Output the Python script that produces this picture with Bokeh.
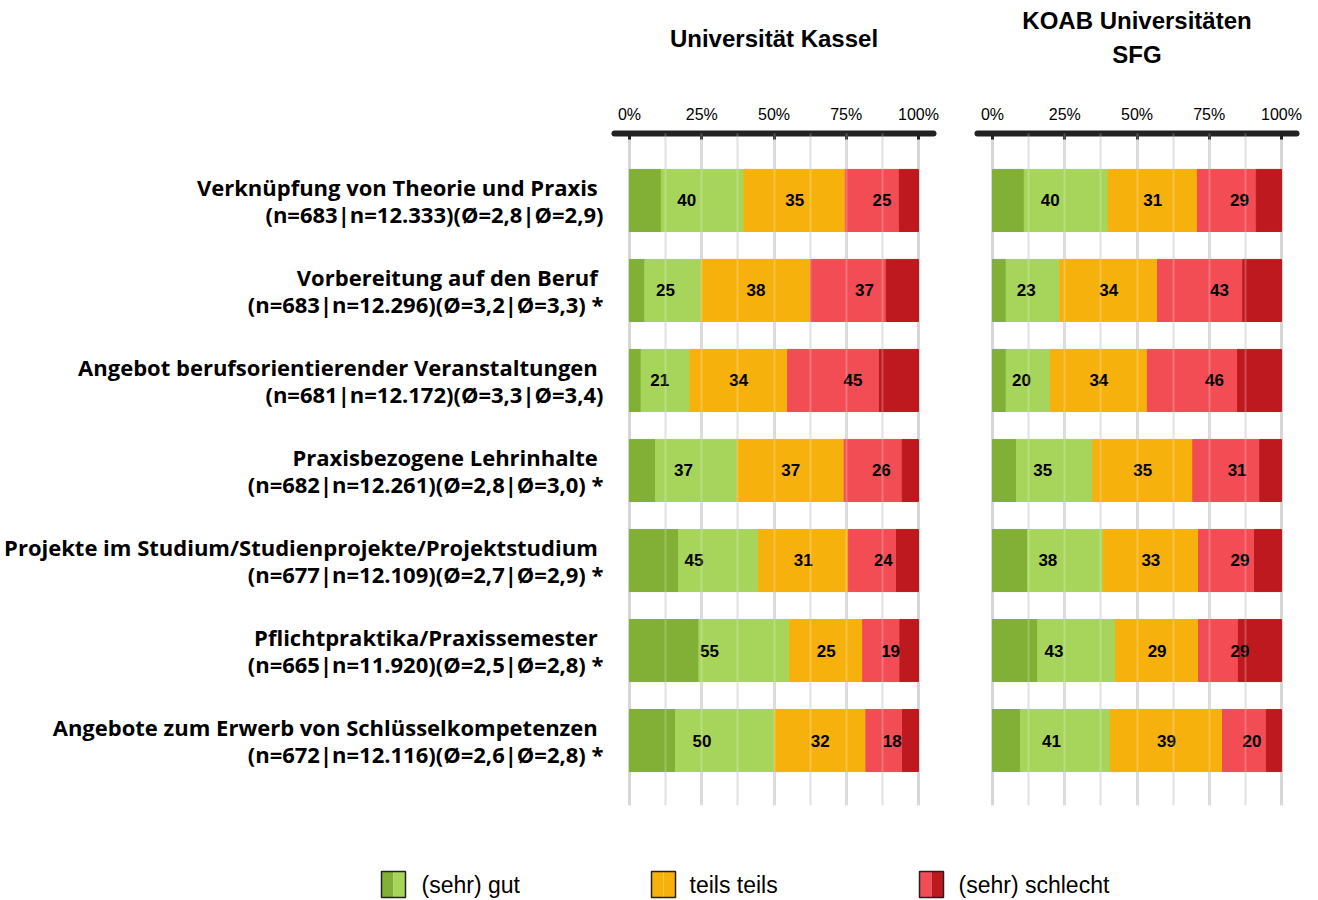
from bokeh.plotting import figure
from bokeh.layouts import row, column
from bokeh.models import Range1d, FixedTicker, Grid, ColumnDataSource, PrintfTickFormatter
from bokeh.embed import file_html
from bokeh.resources import INLINE
from bokeh.core.properties import value

# ---------------- data ----------------
item_line1 = [
    "Verknüpfung von Theorie und Praxis ",
    "Vorbereitung auf den Beruf ",
    "Angebot berufsorientierender Veranstaltungen ",
    "Praxisbezogene Lehrinhalte ",
    "Projekte im Studium/Studienprojekte/Projektstudium ",
    "Pflichtpraktika/Praxissemester ",
    "Angebote zum Erwerb von Schlüsselkompetenzen ",
]
item_line2 = [
    "(n=683|n=12.333)(Ø=2,8|Ø=2,9)",
    "(n=683|n=12.296)(Ø=3,2|Ø=3,3) *",
    "(n=681|n=12.172)(Ø=3,3|Ø=3,4)",
    "(n=682|n=12.261)(Ø=2,8|Ø=3,0) *",
    "(n=677|n=12.109)(Ø=2,7|Ø=2,9) *",
    "(n=665|n=11.920)(Ø=2,5|Ø=2,8) *",
    "(n=672|n=12.116)(Ø=2,6|Ø=2,8) *",
]

kassel_sehr_gut = [11.0, 5.3, 4.0, 9.0, 17.0, 24.0, 15.9]
kassel_gut = [28.6, 19.6, 16.9, 28.3, 27.6, 31.4, 34.3]
kassel_teils = [35.1, 37.7, 33.8, 37.0, 31.1, 25.3, 31.6]
kassel_schlecht = [18.7, 26.3, 31.8, 20.1, 16.7, 12.9, 12.7]
kassel_sehr_schlecht = [6.6, 11.1, 13.5, 5.6, 7.6, 6.4, 5.5]

koab_sehr_gut = [11.0, 4.7, 4.7, 8.3, 12.2, 15.6, 9.7]
koab_gut = [29.0, 18.6, 15.3, 26.4, 26.1, 27.0, 31.1]
koab_teils = [30.9, 33.8, 33.6, 34.6, 33.0, 28.7, 38.8]
koab_schlecht = [20.4, 29.5, 31.2, 23.2, 19.4, 13.8, 15.2]
koab_sehr_schlecht = [8.7, 13.4, 15.2, 7.5, 9.3, 14.9, 5.2]

x_ticks = [0, 25, 50, 75, 100]
panel_titles = [["Universität Kassel"], ["KOAB Universitäten", "SFG"]]
legend_labels = ["(sehr) gut", "teils teils", "(sehr) schlecht"]

C_SG, C_G, C_T, C_S, C_SS = "#82AF35", "#A7D55B", "#F6B10D", "#F24C55", "#BE191F"

N = len(item_line1)
ypos = list(range(N))
X_RANGE = (-5.2, 105.2)


def make_header(width, bl, br, lines, ys):
    h = figure(width=width, height=90, output_backend="svg", toolbar_location=None,
               x_range=Range1d(*X_RANGE), y_range=Range1d(90, 0),
               min_border_left=bl, min_border_right=br, min_border_top=0, min_border_bottom=0)
    h.axis.visible = False
    h.grid.visible = False
    h.outline_line_color = None
    h.text(x=[50] * len(lines), y=ys, text=lines, text_font=value("Liberation Sans"),
           text_font_style="bold", text_font_size="24px", text_align="center",
           text_baseline="middle", text_color="black")
    return h


def make_panel(width, bl, br, show_labels, sg, g, t, s, ss):
    p = figure(width=width, height=750, output_backend="svg", toolbar_location=None,
               x_range=Range1d(*X_RANGE), y_range=Range1d(N - 0.278, -0.744),
               x_axis_location="above", min_border_left=bl, min_border_right=br,
               min_border_top=43, min_border_bottom=35)
    p.outline_line_color = None
    p.xgrid.visible = False
    p.ygrid.visible = False

    # grid lines
    p.add_layout(Grid(dimension=0, ticker=FixedTicker(ticks=[12.5, 37.5, 62.5, 87.5]),
                      grid_line_color="#DCDCDC", grid_line_width=2))
    p.add_layout(Grid(dimension=0, ticker=FixedTicker(ticks=x_ticks),
                      grid_line_color="#D6D6D6", grid_line_width=3))

    src = ColumnDataSource(dict(y=ypos, sg=sg, g=g, t=t, s=s, ss=ss))
    p.hbar_stack(["sg", "g", "t", "s", "ss"], y="y", height=0.69, source=src,
                 color=[C_SG, C_G, C_T, C_S, C_SS])

    p.add_layout(Grid(dimension=0, ticker=FixedTicker(ticks=[12.5, 25, 37.5, 50, 62.5, 75, 87.5]),
                      grid_line_color="white", grid_line_alpha=0.22, grid_line_width=2,
                      level="overlay"))

    xs, ys, labs = [], [], []
    for i in range(N):
        good = sg[i] + g[i]
        bad = s[i] + ss[i]
        xs += [good / 2, good + t[i] / 2, good + t[i] + bad / 2]
        ys += [i, i, i]
        labs += [f"{round(good):d}", f"{round(t[i]):d}", f"{round(bad):d}"]
    p.text(x=xs, y=ys, text=labs, text_font=value("Liberation Sans"), text_font_style="bold",
           text_font_size="17px", text_align="center", text_baseline="middle", text_color="black")

    ax = p.xaxis[0]
    ax.ticker = FixedTicker(ticks=x_ticks)
    ax.formatter = PrintfTickFormatter(format="%d%%")
    ax.axis_line_width = 6
    ax.axis_line_color = "#222222"
    ax.axis_line_cap = "round"
    ax.major_tick_in = 6
    ax.major_tick_out = 0
    ax.major_tick_line_width = 3
    ax.major_tick_line_color = "#222222"
    ax.minor_tick_line_color = None
    ax.major_label_standoff = 11
    ax.major_label_text_font = "Liberation Sans"
    ax.major_label_text_font_size = "16px"
    ax.major_label_text_color = "black"

    ya = p.yaxis[0]
    if show_labels:
        ya.ticker = FixedTicker(ticks=ypos)
        ya.major_label_overrides = {i: item_line1[i] + "\n" + item_line2[i] for i in range(N)}
        ya.axis_line_color = None
        ya.major_tick_line_color = None
        ya.minor_tick_line_color = None
        ya.major_tick_in = 0
        ya.major_tick_out = 0
        ya.major_label_standoff = 11
        ya.major_label_text_font = "Open Sans"
        ya.major_label_text_font_style = "bold"
        ya.major_label_text_font_size = "22px"
        ya.major_label_text_line_height = 0.9
        ya.major_label_text_color = "black"
    else:
        ya.visible = False
    return p


ha = make_header(950, 614, 17, panel_titles[0], [38])
hb = make_header(368, 27, 22, panel_titles[1], [20, 54])

pa = make_panel(950, 614, 17, True, kassel_sehr_gut, kassel_gut, kassel_teils,
                kassel_schlecht, kassel_sehr_schlecht)
pb = make_panel(368, 27, 22, False, koab_sehr_gut, koab_gut, koab_teils,
                koab_schlecht, koab_sehr_schlecht)

# legend figure
pl = figure(width=1318, height=60, output_backend="svg", toolbar_location=None,
            x_range=Range1d(0, 1318), y_range=Range1d(0, 60),
            min_border=0)
pl.axis.visible = False
pl.grid.visible = False
pl.outline_line_color = None
box_left = [381, 651, 919]
text_left = [421, 689, 958]
legend_colors = [(C_SG, C_G), (C_T, C_T), (C_S, C_SS)]
for bx, tx, lab, (c1, c2) in zip(box_left, text_left, legend_labels, legend_colors):
    pl.quad(left=[bx], right=[bx + 12], bottom=[3], top=[29], fill_color=c1, line_color=None)
    pl.quad(left=[bx + 12], right=[bx + 24], bottom=[3], top=[29], fill_color=c2, line_color=None)
    pl.quad(left=[bx], right=[bx + 24], bottom=[3], top=[29], fill_color=None,
            line_color="#222222", line_width=1.5)
    pl.text(x=[tx], y=[16], text=[lab], text_font=value("Liberation Sans"),
            text_font_size="23px", text_baseline="middle", text_align="left", text_color="black")

layout = column(row(ha, hb), row(pa, pb), pl)
open("out.html", "w").write(file_html(layout, INLINE))
